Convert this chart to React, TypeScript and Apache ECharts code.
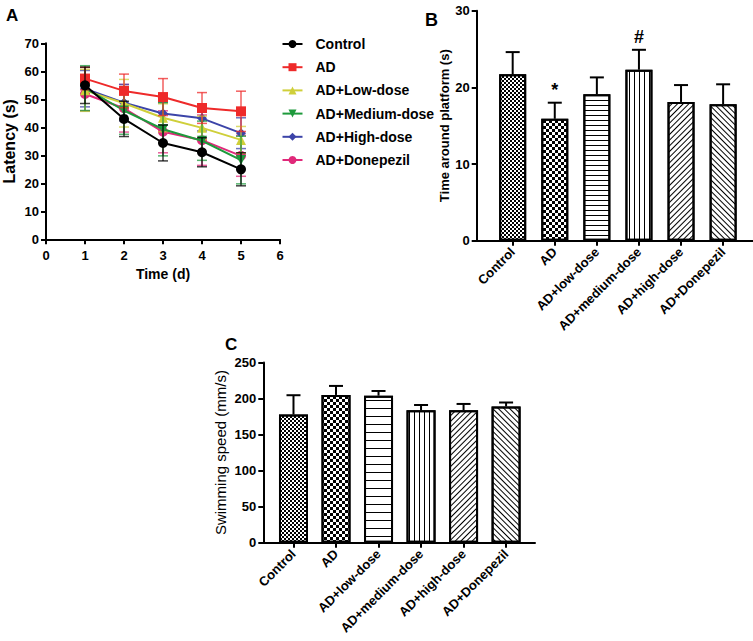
import { useEffect, useRef } from 'react';
import * as echarts from 'echarts';

// ---------- Panel A: escape latency ----------
const days = [1, 2, 3, 4, 5];
const groupNames = ['Control', 'AD', 'AD+Low-dose', 'AD+Medium-dose', 'AD+High-dose', 'AD+Donepezil'];
const latencyControl = [55.0, 43.0, 34.4, 31.1, 25.0];
const latencyAD = [57.4, 53.0, 50.8, 46.9, 45.7];
const latencyLow = [53.2, 48.6, 43.4, 39.8, 35.5];
const latencyMedium = [54.0, 46.0, 39.3, 35.2, 28.3];
const latencyHigh = [53.8, 48.8, 44.9, 43.2, 37.9];
const latencyDonepezil = [51.9, 46.8, 38.4, 35.4, 29.8];
const sdControl = [6.5, 6.3, 6.4, 5.2, 5.9];
const sdAD = [4.0, 6.0, 6.6, 5.5, 7.2];
const sdLow = [7.5, 8.5, 5.0, 4.2, 4.8];
const sdMedium = [8.0, 8.5, 9.5, 7.0, 8.5];
const sdHigh = [6.5, 6.5, 4.0, 4.5, 5.5];
const sdDonepezil = [6.0, 8.5, 7.5, 9.0, 7.3];

// ---------- Panel B: time around platform ----------
const barCategories = ['Control', 'AD', 'AD+low-dose', 'AD+medium-dose', 'AD+high-dose', 'AD+Donepezil'];
const timeMeans = [21.7, 15.9, 19.1, 22.3, 18.1, 17.8];
const timeErr = [2.9, 2.1, 2.2, 2.6, 2.2, 2.6];
const timeMarks = ['', '*', '', '#', '', ''];

// ---------- Panel C: swimming speed ----------
const speedMeans = [177.8, 205.0, 204.0, 183.8, 183.8, 189.0];
const speedErr = [26.8, 12.5, 6.5, 7.2, 8.7, 5.5];

const latencyTicks = [0, 1, 2, 3, 4, 5, 6];

const FONT = 'Liberation Sans, Arial, Helvetica, sans-serif';

const lineColors = ['#000000', '#ee2a2a', '#cfcf3a', '#1e9a3c', '#3c44a8', '#e0297a'];
const lineSymbols = ['circle', 'rect', 'triangle', 'path://M0,0 L10,0 L5,9 Z', 'diamond', 'circle'];
const lineSymbolSizes = [10, 10, 10, 10, 10, 10];

function decalsFor(h: number, v: number, d: number) {
  return [
    { symbol: 'rect', symbolSize: 1, color: '#000', dashArrayX: [[1.5, 1.5], [0, 1.5, 1.5, 0]], dashArrayY: [1.5, 0] },
    { symbol: 'rect', symbolSize: 1, color: '#000', dashArrayX: [[2.5, 2.5], [0, 2.5, 2.5, 0]], dashArrayY: [2.5, 0] },
    { symbol: 'rect', symbolSize: 1, color: '#000', dashArrayX: [1, 0], dashArrayY: [1, h] },
    { symbol: 'rect', symbolSize: 1, color: '#000', dashArrayX: [1, 0], dashArrayY: [1, v], rotation: Math.PI / 2 },
    { symbol: 'rect', symbolSize: 1, color: '#000', dashArrayX: [1, 0], dashArrayY: [1, d], rotation: -Math.PI / 4 },
    { symbol: 'rect', symbolSize: 1, color: '#000', dashArrayX: [1, 0], dashArrayY: [1, d], rotation: Math.PI / 4 },
  ];
}

export default function App() {
  const ref = useRef<HTMLDivElement>(null);
  useEffect(() => {
    if (!ref.current) return;
    const chart = echarts.init(ref.current, null, { renderer: 'svg' });

    const latencies = [latencyControl, latencyAD, latencyLow, latencyMedium, latencyHigh, latencyDonepezil];
    const sds = [sdControl, sdAD, sdLow, sdMedium, sdHigh, sdDonepezil];
    const zOrder = [9, 8, 5, 6, 4, 3];

    const series: any[] = [];
    groupNames.forEach((name, g) => {
      const color = lineColors[g];
      series.push({
        type: 'custom',
        name: 'err-' + name,
        xAxisIndex: 0,
        yAxisIndex: 0,
        z: zOrder[g] - 0.5,
        silent: true,
        data: days.map((d, j) => [d, latencies[g][j] - sds[g][j], latencies[g][j] + sds[g][j]]),
        renderItem: (params: any, api: any) => {
          const x = api.value(0);
          const lo = api.coord([x, api.value(1)]);
          const hi = api.coord([x, api.value(2)]);
          const w = 5;
          const style = { stroke: color, lineWidth: 1.5, opacity: 0.75 };
          return {
            type: 'group',
            children: [
              { type: 'line', shape: { x1: lo[0], y1: lo[1], x2: hi[0], y2: hi[1] }, style },
              { type: 'line', shape: { x1: lo[0] - w, y1: lo[1], x2: lo[0] + w, y2: lo[1] }, style },
              { type: 'line', shape: { x1: hi[0] - w, y1: hi[1], x2: hi[0] + w, y2: hi[1] }, style },
            ],
          };
        },
      });
      series.push({
        type: 'line',
        name,
        xAxisIndex: 0,
        yAxisIndex: 0,
        z: zOrder[g],
        data: days.map((d, j) => [d, latencies[g][j]]),
        symbol: lineSymbols[g],
        symbolSize: lineSymbolSizes[g],
        showAllSymbol: true,
        lineStyle: { color, width: 2 },
        itemStyle: { color, opacity: 1 },
      });
    });

    const decB = decalsFor(3.2, 3.2, 2.4);
    const decC = decalsFor(6.3, 3.8, 3.0);

    const barPanel = (axisIdx: number, means: number[], errs: number[], decals: any[], barW: number, marks: string[] | null) => {
      series.push({
        type: 'bar',
        name: 'bars' + axisIdx,
        xAxisIndex: axisIdx,
        yAxisIndex: axisIdx,
        barWidth: barW,
        z: 2,
        data: means.map((v, i) => ({ value: [i, v], itemStyle: { decal: decals[i] } })),
        itemStyle: { color: '#ffffff', borderColor: '#000', borderWidth: 2 },
      });
      series.push({
        type: 'custom',
        name: 'errbars' + axisIdx,
        xAxisIndex: axisIdx,
        yAxisIndex: axisIdx,
        z: 3,
        silent: true,
        data: means.map((v, i) => [i, v, v + errs[i]]),
        renderItem: (params: any, api: any) => {
          const x = api.value(0);
          const base = api.coord([x, api.value(1)]);
          const top = api.coord([x, api.value(2)]);
          const mark = marks ? marks[params.dataIndex] : '';
          const w = 7;
          const style = { stroke: '#000', lineWidth: 2 };
          const children: any[] = [
            { type: 'line', shape: { x1: base[0], y1: base[1], x2: top[0], y2: top[1] }, style },
            { type: 'line', shape: { x1: top[0] - w, y1: top[1], x2: top[0] + w, y2: top[1] }, style },
          ];
          if (mark) {
            children.push({
              type: 'text',
              x: top[0],
              y: top[1] - 4,
              style: { text: mark, fill: '#000', font: `bold 18px ${FONT}`, textAlign: 'center', textVerticalAlign: 'bottom' },
            });
          }
          return { type: 'group', children };
        },
      });
    };
    barPanel(1, timeMeans, timeErr, decB, 27, timeMarks);
    barPanel(2, speedMeans, speedErr, decC, 29, null);

    const axisLine = { show: true, onZero: false, lineStyle: { color: '#000', width: 2 } };
    const axisTick = { show: true, length: 5, lineStyle: { color: '#000', width: 2 } };
    const tickLabel = (size: number) => ({ color: '#000', fontWeight: 'bold' as const, fontSize: size, fontFamily: FONT });
    const catIdx = barCategories.map((_, i) => i);

    chart.setOption({
      animation: false,
      backgroundColor: '#ffffff',
      textStyle: { fontFamily: FONT },
      grid: [
        { left: 43.3, top: 43.3, width: 236.7, height: 196 },
        { left: 476.7, top: 10.7, width: 276.3, height: 230 },
        { left: 263.3, top: 362.5, width: 271.7, height: 180.2 },
      ],
      legend: {
        orient: 'vertical',
        left: 276.5,
        top: 32,
        itemWidth: 20,
        itemHeight: 10,
        itemGap: 9.2,
        data: groupNames,
        textStyle: { ...tickLabel(14), padding: [0, 0, 0, 8] },
        selectedMode: false,
      },
      xAxis: [
        {
          type: 'value', gridIndex: 0, min: 0, max: 6, interval: 1,
          axisLine, axisTick, splitLine: { show: false },
          axisLabel: { ...tickLabel(13), margin: 10, formatter: (v: number) => (latencyTicks.includes(v) ? String(v) : '') },
          name: 'Time (d)', nameLocation: 'middle', nameGap: 28,
          nameTextStyle: { ...tickLabel(14) },
        },
        {
          type: 'value', gridIndex: 1, min: -0.855, max: 5.71,
          axisLine, splitLine: { show: false },
          axisTick: { ...axisTick, customValues: catIdx },
          axisLabel: { ...tickLabel(13), rotate: 45, margin: 9, customValues: catIdx, formatter: (v: number) => barCategories[Math.round(v)] },
        },
        {
          type: 'value', gridIndex: 2, min: -0.71, max: 5.68,
          axisLine, splitLine: { show: false },
          axisTick: { ...axisTick, customValues: catIdx },
          axisLabel: { ...tickLabel(13), rotate: 45, margin: 9, customValues: catIdx, formatter: (v: number) => barCategories[Math.round(v)] },
        },
      ],
      yAxis: [
        {
          type: 'value', gridIndex: 0, min: 0, max: 70, interval: 10,
          axisLine, axisTick, splitLine: { show: false },
          axisLabel: { ...tickLabel(13), margin: 7 },
          name: 'Latency (s)', nameLocation: 'middle', nameGap: 29,
          nameTextStyle: { ...tickLabel(16) },
        },
        {
          type: 'value', gridIndex: 1, min: 0, max: 30, interval: 10,
          axisLine, axisTick, splitLine: { show: false },
          axisLabel: { ...tickLabel(13), margin: 7 },
          name: 'Time around platform (s)', nameLocation: 'middle', nameGap: 22,
          nameTextStyle: { ...tickLabel(13) },
        },
        {
          type: 'value', gridIndex: 2, min: 0, max: 250, interval: 50,
          axisLine, axisTick, splitLine: { show: false },
          axisLabel: { ...tickLabel(13), margin: 7 },
          name: 'Swimming speed (mm/s)', nameLocation: 'middle', nameGap: 35,
          nameTextStyle: { color: '#000', fontSize: 15, fontFamily: FONT },
        },
      ],
      graphic: [
        { type: 'text', left: 6, top: 7, style: { text: 'A', font: `bold 17px ${FONT}`, fill: '#000' } },
        { type: 'text', left: 425, top: 11, style: { text: 'B', font: `bold 18px ${FONT}`, fill: '#000' } },
        { type: 'text', left: 225, top: 336, style: { text: 'C', font: `bold 17px ${FONT}`, fill: '#000' } },
      ],
      series,
    });
    return () => chart.dispose();
  }, []);
  return <div ref={ref} style={{ position: 'absolute', left: 0, top: 0, width: 753, height: 641, background: '#fff' }} />;
}
